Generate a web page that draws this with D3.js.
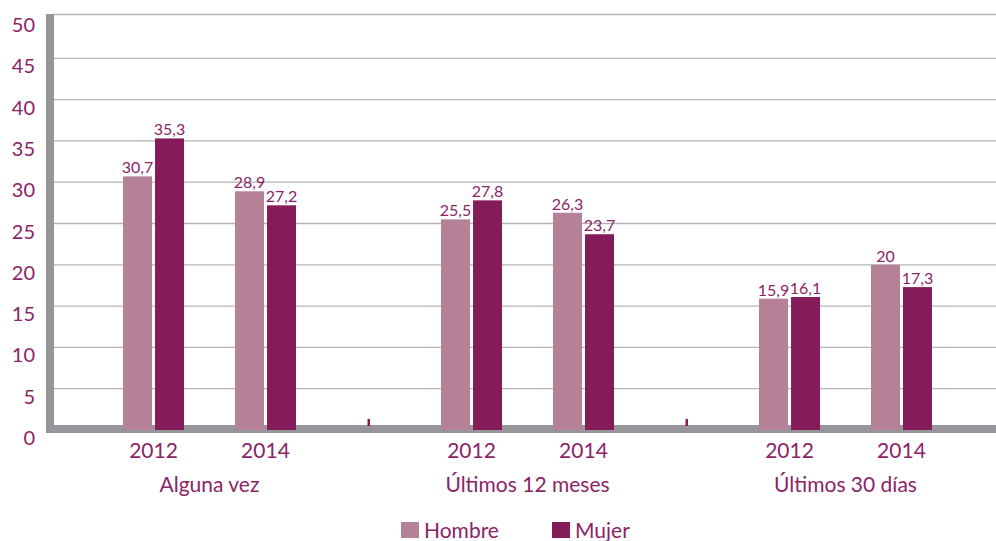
<!DOCTYPE html>
<html>
<head>
<meta charset="utf-8">
<script src="https://cdn.jsdelivr.net/npm/d3@7"></script>
<style>
body { margin: 0; background: #fff; }
svg text { font-family: "Lato", "DejaVu Sans", sans-serif; fill: #8b2466; }
</style>
</head>
<body>
<svg id="chart" width="996" height="541"></svg>
<script>
let categories = ["Alguna vez", "Últimos 12 meses", "Últimos 30 días"];
let years = ["2012", "2014"];
let series = ["Hombre", "Mujer"];
let hombre = [30.7, 28.9, 25.5, 26.3, 15.9, 20];
let mujer = [35.3, 27.2, 27.8, 23.7, 16.1, 17.3];
let yTicks = [0, 5, 10, 15, 20, 25, 30, 35, 40, 45, 50];
let colors = ["#b58197", "#841c5a"];

let width = 996, height = 541;
let svg = d3.select("#chart");

// build rows
let rows = [];
categories.forEach(function(c, ci) {
	years.forEach(function(yr, yi) {
		let i = ci*years.length + yi;
		rows.push({cat: c, year: yr, sex: "Hombre", v: hombre[i]});
		rows.push({cat: c, year: yr, sex: "Mujer", v: mujer[i]});
	});
});

let x0 = d3.scaleBand().domain(categories).range([50.5, 1004.5]).padding(0);
let x1 = d3.scaleBand().domain(years).range([0, x0.bandwidth()]).paddingInner(0).paddingOuter(0.42);
let x2 = d3.scaleBand().domain(series).range([25.5, 86.5]).paddingInner(0.094);
let y = d3.scaleLinear().domain([0, 50]).range([430, 17]);

function fmt(v) { return String(v).replace(".", ","); }

// gridlines
svg.append("g")
	.selectAll("line")
	.data(yTicks.filter(function(d) { return d > 0; }))
	.enter().append("line")
	.attr("x1", 54).attr("x2", width)
	.attr("y1", function(d) { return d == 50 ? 14.5 : y(d); })
	.attr("y2", function(d) { return d == 50 ? 14.5 : y(d); })
	.attr("stroke", "#b4b4b4")
	.attr("stroke-width", 1.3);

// wall and floor
svg.append("rect").attr("x", 46).attr("y", 14).attr("width", 8).attr("height", 419).attr("fill", "#96969a");
svg.append("rect").attr("x", 46).attr("y", 425).attr("width", width - 46).attr("height", 8).attr("fill", "#96969a");

// y labels
svg.append("g")
	.selectAll("text")
	.data(yTicks)
	.enter().append("text")
	.attr("x", 35)
	.attr("y", function(d) { return y(d) + 15; })
	.style("text-anchor", "end")
	.style("font-size", "20px")
	.text(function(d) { return d; });

// bars
let bars = svg.append("g");
bars.selectAll("rect")
	.data(rows)
	.enter().append("rect")
	.attr("x", function(d) { return x0(d.cat) + x1(d.year) + x2(d.sex); })
	.attr("width", x2.bandwidth())
	.attr("y", function(d) { return y(d.v); })
	.attr("height", function(d) { return y(0) - y(d.v); })
	.attr("fill", function(d) { return d.sex == "Hombre" ? colors[0] : colors[1]; });

bars.selectAll("text")
	.data(rows)
	.enter().append("text")
	.attr("x", function(d) { return x0(d.cat) + x1(d.year) + x2(d.sex) + x2.bandwidth()/2; })
	.attr("y", function(d) { return y(d.v) - 3; })
	.style("text-anchor", "middle")
	.style("font-size", "16px")
	.text(function(d) { return fmt(d.v); });

// group separators
svg.append("g")
	.selectAll("rect")
	.data(categories.slice(1))
	.enter().append("rect")
	.attr("x", function(d) { return x0(d) - 1; })
	.attr("y", 419)
	.attr("width", 2.5)
	.attr("height", 7)
	.attr("fill", "#841c5a");

// year labels
let yearRows = [];
categories.forEach(function(c) { years.forEach(function(yr) { yearRows.push({cat: c, year: yr}); }); });
svg.append("g")
	.selectAll("text")
	.data(yearRows)
	.enter().append("text")
	.attr("x", function(d) { return x0(d.cat) + x1(d.year) + x1.bandwidth()/2; })
	.attr("y", 458)
	.style("text-anchor", "middle")
	.style("font-size", "21px")
	.text(function(d) { return d.year; });

// category labels
svg.append("g")
	.selectAll("text")
	.data(categories)
	.enter().append("text")
	.attr("x", function(d) { return x0(d) + x0.bandwidth()/2; })
	.attr("y", 492)
	.style("text-anchor", "middle")
	.style("font-size", "21px")
	.text(function(d) { return d; });

// legend
let legX = [401, 552];
let leg = svg.append("g")
	.selectAll("g")
	.data(series)
	.enter().append("g")
	.attr("transform", function(d, i) { return "translate(" + legX[i] + ",522)"; });
leg.append("rect").attr("width", 18).attr("height", 16).attr("fill", function(d, i) { return colors[i]; });
leg.append("text").attr("x", 23).attr("y", 16).style("font-size", "21px").text(function(d) { return d; });
</script>
</body>
</html>
